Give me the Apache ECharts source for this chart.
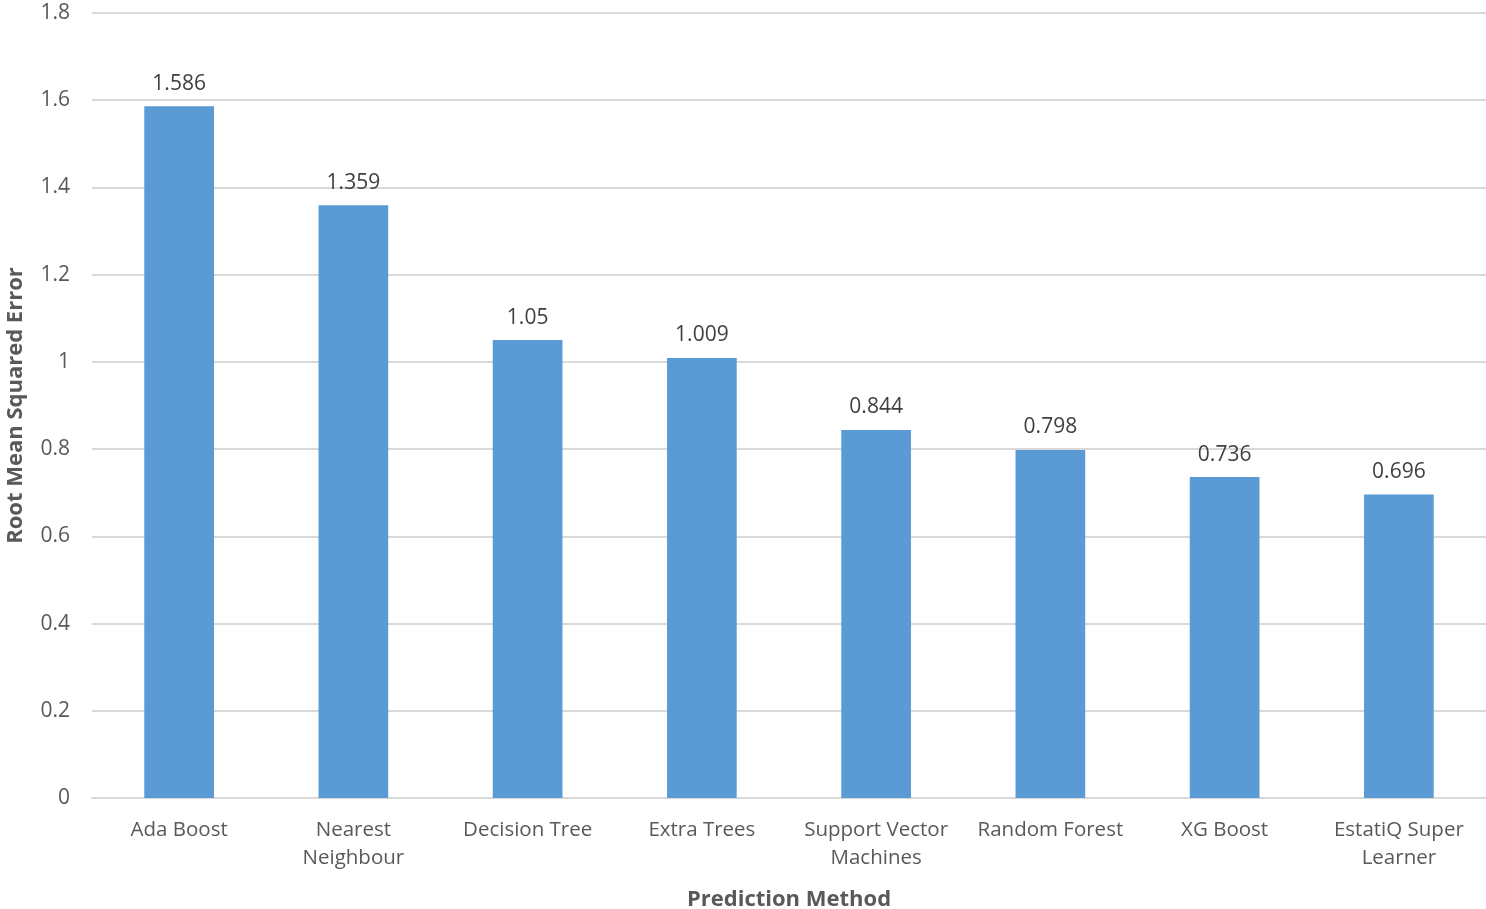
<!DOCTYPE html>
<html>
<head>
<meta charset="utf-8">
<script src="https://cdn.jsdelivr.net/npm/echarts@6/dist/echarts.min.js"></script>
<style>
  html, body { margin: 0; padding: 0; background: #fff; }
  #chart { width: 1486px; height: 909px; }
</style>
</head>
<body>
<div id="chart"></div>
<script>
const methods = ['Ada Boost', 'Nearest\nNeighbour', 'Decision Tree', 'Extra Trees', 'Support Vector\nMachines', 'Random Forest', 'XG Boost', 'EstatiQ Super\nLearner']
const rmse = [1.586, 1.359, 1.05, 1.009, 0.844, 0.798, 0.736, 0.696]

const font = '"Open Sans", "Noto Sans", sans-serif'
const myChart = echarts.init(document.getElementById('chart'))
const option = {
  animation: false,
  grid: {
    left: 92,
    right: 0,
    top: 13,
    bottom: 111,
    outerBoundsMode: 'none',
    containLabel: false
  },
  xAxis: {
    type: 'category',
    data: methods,
    name: 'Prediction Method',
    nameLocation: 'center',
    nameGap: 91,
    nameMoveOverlap: false,
    nameTextStyle: { fontFamily: font, fontSize: 22, fontWeight: 'bold', color: '#595959' },
    axisLine: { lineStyle: { color: '#d9d9d9', width: 2 } },
    axisTick: { show: false },
    axisLabel: {
      interval: 0,
      margin: 18,
      fontFamily: font,
      fontSize: 20.5,
      lineHeight: 28,
      color: '#595959'
    }
  },
  yAxis: {
    type: 'value',
    min: 0,
    max: 1.8,
    interval: 0.2,
    name: 'Root Mean Squared Error',
    nameLocation: 'center',
    nameGap: 65,
    nameMoveOverlap: false,
    nameTextStyle: { fontFamily: font, fontSize: 22, fontWeight: 'bold', color: '#595959' },
    axisLine: { show: false },
    axisTick: { show: false },
    axisLabel: {
      margin: 22,
      fontFamily: font,
      fontSize: 21,
      color: '#595959',
      formatter: v => String(+v.toFixed(1))
    },
    splitLine: { lineStyle: { color: '#d9d9d9', width: 2 } }
  },
  series: [
    {
      name: 'RMSE',
      type: 'bar',
      data: rmse,
      barWidth: '40%',
      itemStyle: { color: '#5b9bd5' },
      label: {
        show: true,
        position: 'top',
        distance: 12,
        fontFamily: font,
        fontSize: 21,
        color: '#404040',
        formatter: p => String(p.value)
      }
    }
  ]
}
myChart.setOption(option)
</script>
</body>
</html>
